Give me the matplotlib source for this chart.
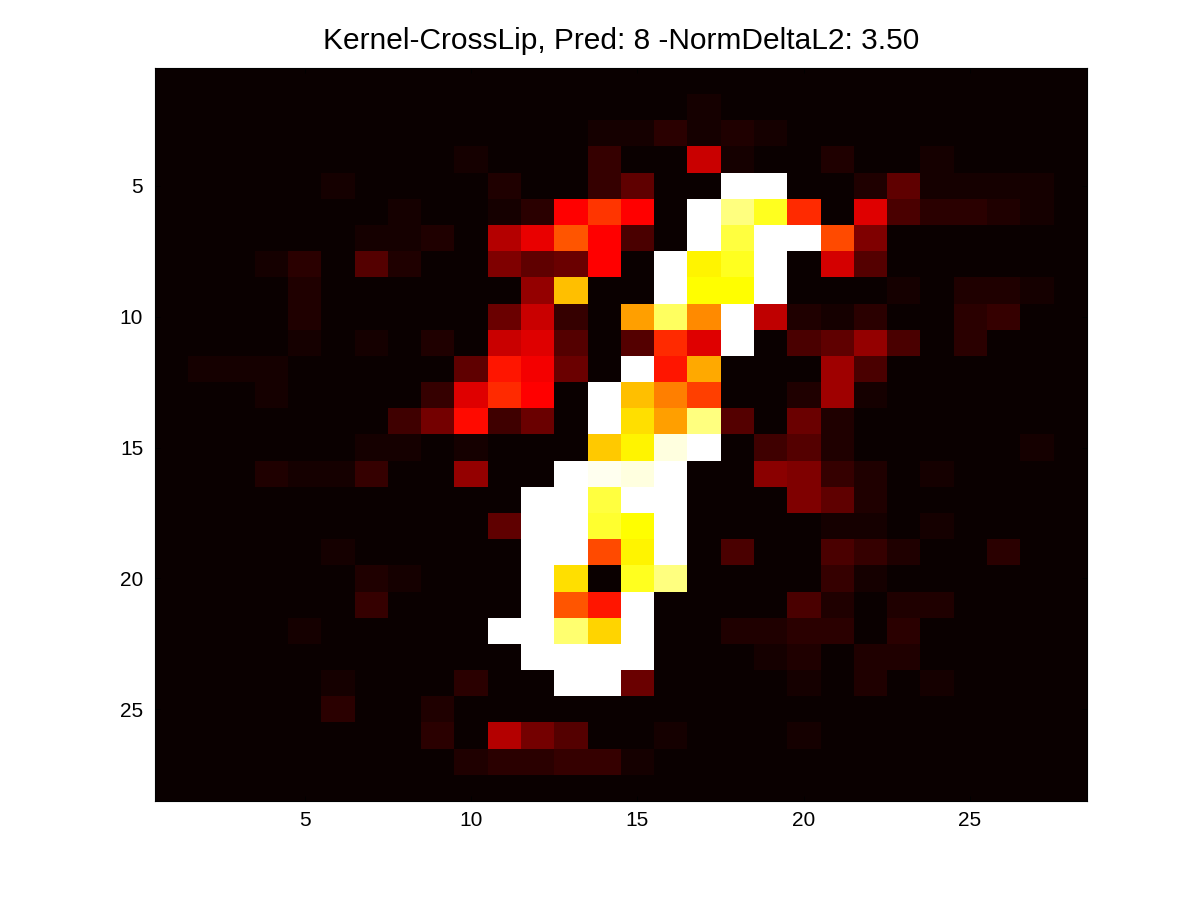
import numpy as np
import matplotlib
matplotlib.use('Agg')
import matplotlib.pyplot as plt

# ==========================================
# 1. Data: 28x28 image, as levels of a 64 step hot colormap
# ==========================================
TITLE = 'Kernel-CrossLip, Pred: 8 -NormDeltaL2: 3.50'
N_LEVELS = 64
tick_values = [5, 10, 15, 20, 25]

pixels = [
    [0, 0, 0, 0, 0, 0, 0, 0, 0, 0, 0, 0, 0, 0, 0, 0, 0, 0, 0, 0, 0, 0, 0, 0, 0, 0, 0, 0],
    [0, 0, 0, 0, 0, 0, 0, 0, 0, 0, 0, 0, 0, 0, 0, 0, 1, 0, 0, 0, 0, 0, 0, 0, 0, 0, 0, 0],
    [0, 0, 0, 0, 0, 0, 0, 0, 0, 0, 0, 0, 0, 1, 1, 3, 1, 2, 1, 0, 0, 0, 0, 0, 0, 0, 0, 0],
    [0, 0, 0, 0, 0, 0, 0, 0, 0, 1, 0, 0, 0, 4, 0, 0, 18, 1, 0, 0, 2, 0, 0, 1, 0, 0, 0, 0],
    [0, 0, 0, 0, 0, 1, 0, 0, 0, 0, 2, 0, 0, 4, 8, 0, 0, 63, 63, 0, 0, 2, 8, 1, 1, 1, 1, 0],
    [0, 0, 0, 0, 0, 0, 0, 1, 0, 0, 1, 3, 23, 28, 23, 0, 63, 55, 49, 27, 0, 20, 6, 3, 3, 2, 1, 0],
    [0, 0, 0, 0, 0, 0, 1, 1, 2, 0, 16, 21, 31, 23, 6, 0, 63, 51, 63, 63, 30, 11, 0, 0, 0, 0, 0, 0],
    [0, 0, 0, 1, 3, 0, 7, 2, 0, 0, 11, 8, 9, 23, 0, 63, 46, 49, 63, 0, 19, 7, 0, 0, 0, 0, 0, 0],
    [0, 0, 0, 0, 2, 0, 0, 0, 0, 0, 0, 13, 41, 0, 0, 63, 47, 47, 63, 0, 0, 0, 1, 0, 2, 2, 1, 0],
    [0, 0, 0, 0, 2, 0, 0, 0, 0, 0, 9, 18, 4, 0, 38, 53, 36, 63, 17, 2, 1, 3, 0, 0, 3, 4, 0, 0],
    [0, 0, 0, 0, 1, 0, 1, 0, 2, 0, 18, 20, 7, 0, 7, 27, 20, 63, 0, 6, 8, 13, 6, 0, 3, 0, 0, 0],
    [0, 1, 1, 1, 0, 0, 0, 0, 0, 8, 25, 22, 9, 0, 63, 25, 39, 0, 0, 0, 14, 6, 0, 0, 0, 0, 0, 0],
    [0, 0, 0, 1, 0, 0, 0, 0, 4, 20, 27, 23, 0, 63, 41, 35, 29, 0, 0, 2, 14, 1, 0, 0, 0, 0, 0, 0],
    [0, 0, 0, 0, 0, 0, 0, 5, 10, 24, 5, 9, 0, 63, 44, 38, 55, 7, 0, 9, 2, 0, 0, 0, 0, 0, 0, 0],
    [0, 0, 0, 0, 0, 0, 1, 1, 0, 1, 0, 0, 0, 42, 46, 61, 63, 0, 5, 7, 2, 0, 0, 0, 0, 0, 1, 0],
    [0, 0, 0, 2, 1, 1, 4, 0, 0, 13, 0, 0, 63, 62, 61, 63, 0, 0, 12, 11, 4, 2, 0, 1, 0, 0, 0, 0],
    [0, 0, 0, 0, 0, 0, 0, 0, 0, 0, 0, 63, 63, 51, 63, 63, 0, 0, 0, 11, 8, 2, 0, 0, 0, 0, 0, 0],
    [0, 0, 0, 0, 0, 0, 0, 0, 0, 0, 8, 63, 63, 50, 47, 63, 0, 0, 0, 0, 1, 1, 0, 1, 0, 0, 0, 0],
    [0, 0, 0, 0, 0, 1, 0, 0, 0, 0, 0, 63, 63, 30, 46, 63, 0, 6, 0, 0, 6, 4, 2, 0, 0, 3, 0, 0],
    [0, 0, 0, 0, 0, 0, 2, 1, 0, 0, 0, 63, 44, 0, 49, 55, 0, 0, 0, 0, 4, 1, 0, 0, 0, 0, 0, 0],
    [0, 0, 0, 0, 0, 0, 4, 0, 0, 0, 0, 63, 31, 25, 63, 0, 0, 0, 0, 6, 2, 0, 2, 2, 0, 0, 0, 0],
    [0, 0, 0, 0, 1, 0, 0, 0, 0, 0, 63, 63, 54, 43, 63, 0, 0, 2, 2, 3, 3, 0, 3, 0, 0, 0, 0, 0],
    [0, 0, 0, 0, 0, 0, 0, 0, 0, 0, 0, 63, 63, 63, 63, 0, 0, 0, 1, 2, 0, 2, 2, 0, 0, 0, 0, 0],
    [0, 0, 0, 0, 0, 1, 0, 0, 0, 3, 0, 0, 63, 63, 9, 0, 0, 0, 0, 1, 0, 2, 0, 1, 0, 0, 0, 0],
    [0, 0, 0, 0, 0, 3, 0, 0, 2, 0, 0, 0, 0, 0, 0, 0, 0, 0, 0, 0, 0, 0, 0, 0, 0, 0, 0, 0],
    [0, 0, 0, 0, 0, 0, 0, 0, 3, 0, 16, 10, 7, 0, 0, 1, 0, 0, 0, 1, 0, 0, 0, 0, 0, 0, 0, 0],
    [0, 0, 0, 0, 0, 0, 0, 0, 0, 2, 3, 3, 4, 4, 1, 0, 0, 0, 0, 0, 0, 0, 0, 0, 0, 0, 0, 0],
    [0, 0, 0, 0, 0, 0, 0, 0, 0, 0, 0, 0, 0, 0, 0, 0, 0, 0, 0, 0, 0, 0, 0, 0, 0, 0, 0, 0],
]

# ==========================================
# 2. Plot
# ==========================================
plt.rcParams['font.family'] = ['Liberation Sans', 'DejaVu Sans']

fig = plt.figure(figsize=(12, 9), dpi=100)
ax = fig.add_axes([155 / 1200, 1 - 801 / 900, 931.5 / 1200, 733 / 900])

img = np.array(pixels)
ax.imshow(img, cmap=plt.get_cmap('hot', N_LEVELS), vmin=0, vmax=N_LEVELS - 1,
          aspect='auto', interpolation='nearest',
          extent=(0.5, img.shape[1] + 0.5, img.shape[0] + 0.5, 0.5))

ax.set_xticks(tick_values)
ax.set_yticks(tick_values)
ax.tick_params(direction='in', top=True, right=True, length=3.5, width=0.6,
               color='black', labelsize=15)
ax.tick_params(axis='x', pad=7.5)
ax.tick_params(axis='y', pad=8.5)
ax.set_title(TITLE, fontsize=21.5, pad=14)

fig.savefig('out.png', dpi=100)
